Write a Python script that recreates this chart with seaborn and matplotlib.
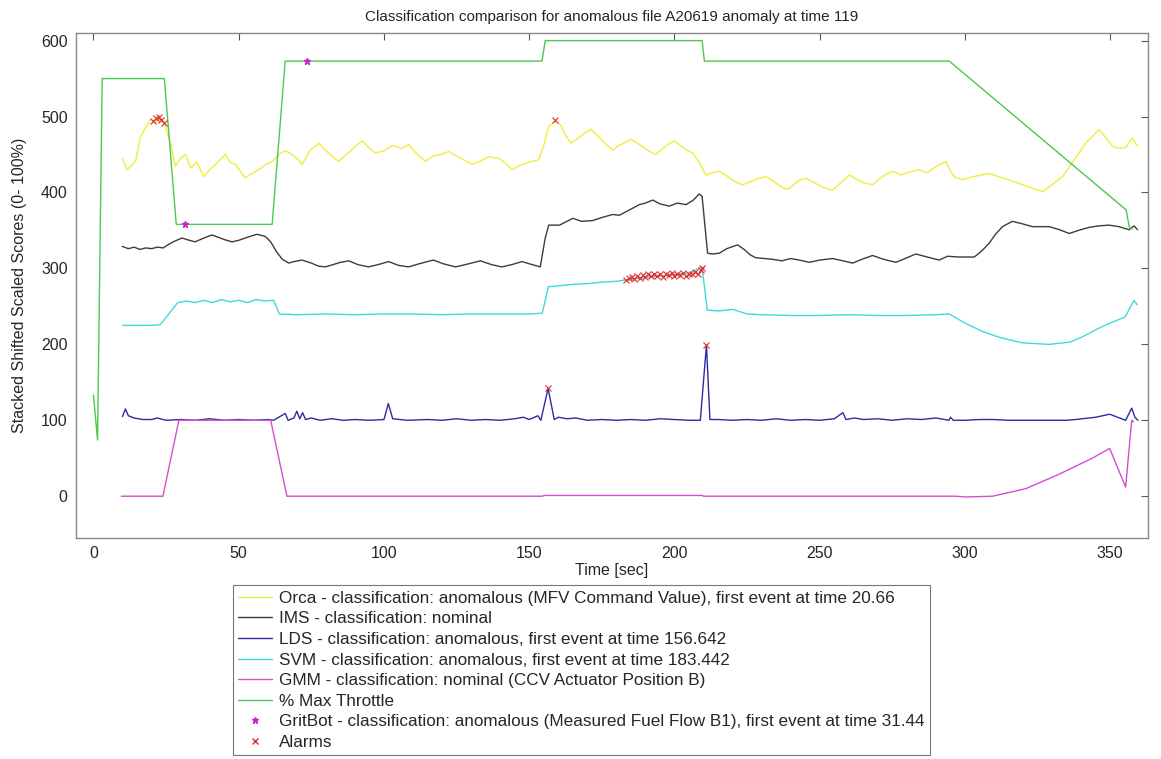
import numpy as np
import pandas as pd
import matplotlib
matplotlib.use("Agg")
import matplotlib.pyplot as plt
import seaborn as sns
from matplotlib.lines import Line2D

# ---------------------------
# data (time [sec], stacked score)
# ---------------------------
orca = [(9.9, 445), (11.6, 430), (12.7, 434), (14.5, 441), (16.2, 474), (17.9, 485), (19.6, 496),
        (21.5, 492), (23, 498), (24.2, 494), (26.5, 465), (28.2, 434), (30, 445), (31.7, 450),
        (33.4, 432), (35.5, 440), (38, 421), (40, 430), (42, 437), (44, 445), (45.4, 450),
        (47, 440), (48.9, 437), (50.5, 428), (52.3, 419), (54.5, 425), (56.9, 430), (59, 436),
        (61.5, 441), (63.8, 450), (66, 455), (68.4, 450), (70, 445), (71.8, 437), (74.5, 455),
        (77.5, 465), (80, 455), (82, 448), (84.4, 441), (87, 450), (90, 460), (92.5, 468),
        (95, 458), (97, 452), (100, 455), (103, 462), (106, 458), (108.5, 463), (111, 452),
        (114.2, 441), (117, 448), (119.5, 450), (122.3, 454), (125, 448), (128, 442), (130.3, 437),
        (133, 441), (136, 447), (139.5, 445), (142, 438), (144.1, 430), (147, 436), (150, 440),
        (153.2, 443), (155, 462), (156.7, 487), (159, 494), (161, 488), (162.5, 475), (164.4, 465),
        (167, 472), (169, 478), (171.2, 483), (173.5, 475), (176, 465), (178.7, 456), (181, 462),
        (183, 466), (185, 470), (188, 463), (191, 455), (193.6, 450), (196, 458), (198, 464),
        (199.9, 468), (202, 462), (204, 456), (206.2, 452), (208.5, 440), (210.8, 423), (213, 426),
        (215.4, 428), (218, 422), (220.5, 415), (223.4, 410), (226, 414), (228.5, 418), (231.5, 421),
        (234, 415), (236.5, 408), (238.9, 404), (241, 410), (243, 416), (245.2, 419), (248, 413),
        (251, 407), (254.4, 403), (257, 412), (260.2, 423), (262.5, 418), (265, 413), (268.2, 410),
        (270.5, 418), (273, 424), (275.1, 428), (278, 423), (281, 427), (284.2, 430), (287, 426),
        (290, 434), (293.4, 441), (295, 428), (296.5, 420), (299.2, 417), (303, 421), (308.3, 425),
        (314, 418), (320, 410), (326.7, 401), (333.6, 421), (341.6, 465), (346.2, 483), (350.8, 461),
        (353, 458), (355.3, 459), (357.6, 472), (359.4, 461)]

ims = [(9.9, 329), (12, 326), (14, 328), (16, 325), (18, 327), (20, 326), (22, 328), (24, 327),
       (26, 332), (28, 336), (30.5, 340), (33, 337), (35, 335), (38, 340), (40.8, 344), (43, 341),
       (45, 338), (47.7, 335), (50, 337), (53, 341), (56.3, 345), (59.2, 342), (61, 335), (63, 322),
       (65, 312), (67.2, 307), (69, 309), (71.8, 311), (75, 307), (77.5, 303), (79.8, 302),
       (82.5, 305), (85, 308), (87.9, 310), (91, 305), (94.7, 302), (98, 305), (101.6, 309),
       (105, 304), (108.5, 302), (112, 306), (117, 311), (120.5, 306), (124.6, 302), (128, 305),
       (133.2, 310), (137, 305), (140.6, 302), (144, 305), (147.5, 309), (151, 305), (153.8, 302),
       (155.5, 340), (156.7, 357), (160.4, 357), (163, 362), (165, 366), (168, 362), (171.8, 363),
       (175, 367), (178.7, 371), (181, 370), (184, 376), (187.9, 384), (190, 386), (192.5, 390),
       (195, 385), (198.2, 382), (201, 386), (204, 384), (206.5, 390), (208.5, 398), (209.5, 395),
       (211.4, 320), (213, 319), (215.4, 320), (218, 326), (221.7, 331), (224, 325), (226, 318),
       (228, 314), (231, 313), (233.7, 312), (237, 310), (240, 313), (243, 311), (246.4, 308),
       (250, 311), (254.4, 313), (258, 310), (261.3, 307), (264.5, 312), (268.2, 317), (272, 312),
       (276.2, 308), (280, 314), (283.1, 319), (287, 315), (291.1, 311), (294, 316), (298, 315),
       (303.2, 315), (305.5, 322), (308.3, 333), (310.5, 345), (312.9, 355), (316.3, 362),
       (319.5, 359), (323.2, 355), (329, 355), (332.5, 351), (335.9, 346), (339, 350), (342.7, 354),
       (346, 356), (349.6, 357), (353, 355), (356.5, 351), (358.2, 356), (359.4, 351)]

lds = [(10, 105), (11, 115), (12, 106), (14, 103), (17, 101), (20, 101), (22, 103), (25, 100),
       (30, 101), (35, 100), (40, 102), (45, 100), (50, 101), (55, 100), (60, 101), (62, 100),
       (66, 109), (67, 100), (69, 103), (70, 112), (71, 102), (72, 110), (73, 101), (75, 103),
       (78, 100), (82, 102), (86, 100), (90, 101), (95, 100), (100, 101), (101.5, 122), (103, 102),
       (108, 100), (115, 101), (120, 100), (125, 102), (130, 100), (135, 101), (140, 100),
       (145, 102), (148, 104), (150, 101), (153, 106), (154, 100), (156.5, 142), (158.6, 101),
       (160, 104), (163, 102), (166, 103), (170, 100), (175, 101), (180, 100), (185, 101),
       (190, 100), (195, 102), (200, 101), (205, 100), (208.9, 100), (211, 199), (212.2, 101),
       (215, 101), (220, 100), (225, 101), (230, 100), (235, 102), (240, 100), (245, 101),
       (250, 100), (255, 102), (258, 110), (259, 101), (262, 103), (265, 101), (270, 102),
       (275, 100), (280, 102), (285, 101), (290, 103), (294.5, 100), (295, 104), (296, 100),
       (300, 100), (305, 101), (310, 101), (315, 100), (320, 100), (325, 100), (330, 100),
       (335, 100), (338, 101), (345, 104), (349.8, 108), (355.3, 100), (357.4, 116), (358.5, 104),
       (359.5, 100)]

svm = [(10, 225), (15, 225), (20, 225), (23, 226), (29, 255), (32, 257), (35, 255), (38, 258),
       (41, 255), (44, 259), (47, 256), (50, 258), (53, 255), (56, 259), (59, 257), (62, 258),
       (64, 240), (70, 239), (80, 240), (90, 239), (100, 240), (110, 240), (120, 239), (130, 240),
       (140, 240), (150, 240), (154.5, 241), (156.6, 276), (160, 277), (165, 279), (170, 280),
       (175, 282), (180, 283), (183.4, 285), (190, 288), (195, 290), (200, 292), (205, 294),
       (209.5, 302), (211.3, 245), (215, 244), (220, 246), (225, 240), (230, 239), (240, 238),
       (250, 238), (260, 239), (270, 238), (280, 238), (290, 239), (294.6, 240), (300, 228),
       (306, 217), (312, 209), (319.7, 202), (329, 200), (336.2, 203), (341, 211), (345.9, 221),
       (350, 228), (355.1, 236), (358.2, 258), (359.3, 252)]

gmm = [(9.6, 0), (23.9, 0), (29.4, 100), (61, 100), (66.6, 0), (154.6, 0), (155, 1), (209.6, 1),
       (210, 0), (297, 0), (300, -1), (309.5, 0), (321, 10), (332.4, 29), (343.8, 50), (349.8, 63),
       (355.3, 12), (357.4, 100), (358, 98)]

throttle = [(0, 133), (1.4, 74), (3, 550), (24.4, 550), (28.5, 358), (61.5, 358), (66, 573),
            (154.4, 573), (155.5, 600), (209.5, 600), (210.3, 573), (294.6, 573), (355.5, 377),
            (356.5, 355), (357.5, 352)]

gritbot = [(31.44, 358), (73.4, 573)]

alarms = [(20.66, 494), (21.6, 498), (22.4, 500), (23.2, 495), (24.3, 492), (159, 495),
          (156.6, 142), (211, 199),
          (183.4, 285), (184.5, 287), (185.3, 289), (186, 286), (187, 290), (188, 288), (189, 291),
          (190, 289), (191, 292), (192, 290), (193, 293), (194, 290), (195, 292), (196, 289),
          (197, 293), (198, 291), (199, 294), (200, 290), (201, 293), (202, 291), (203, 294),
          (204, 290), (205, 293), (206, 292), (207, 295), (208, 293), (209, 298), (209.5, 301)]

labels = ["Orca - classification: anomalous (MFV Command Value), first event at time 20.66",
          "IMS - classification: nominal",
          "LDS - classification: anomalous, first event at time 156.642",
          "SVM - classification: anomalous, first event at time 183.442",
          "GMM - classification: nominal (CCV Actuator Position B)",
          "% Max Throttle",
          "GritBot - classification: anomalous (Measured Fuel Flow B1), first event at time 31.44",
          "Alarms"]

colors = ["#eeee3c", "#3c3c3c", "#2c2ca0", "#40dada", "#d050d0", "#4cc84c"]

# ---------------------------
# plot
# ---------------------------
sns.set_style("white")
plt.rcParams["font.family"] = ["Liberation Sans", "DejaVu Sans"]

fig = plt.figure(figsize=(11.61, 7.59), dpi=100)
ax = fig.add_axes([0.0655, 0.2912, 0.9233, 0.6653])

series = [orca, ims, lds, svm, gmm, throttle]
for pts, col in zip(series, colors):
    df = pd.DataFrame(pts, columns=["time", "score"])
    sns.lineplot(data=df, x="time", y="score", ax=ax, color=col, lw=1.0,
                 sort=False, estimator=None)

gb = pd.DataFrame(gritbot, columns=["time", "score"])
ax.plot(gb["time"], gb["score"], ls="none", marker="*", ms=5, color="#cc22cc")
al = pd.DataFrame(alarms, columns=["time", "score"])
ax.plot(al["time"], al["score"], ls="none", marker="x", ms=4, mew=0.8, color="#e03030")

ax.set_xlim(-6, 363)
ax.set_ylim(-55, 610)
ax.set_xticks(np.arange(0, 351, 50))
ax.set_yticks(np.arange(0, 601, 100))
ax.tick_params(direction="in", length=5, width=0.8, top=True, right=True,
               labelsize=11.5, color="#555555", pad=6)
for s in ax.spines.values():
    s.set_color("#888888")
    s.set_linewidth(1.0)

ax.set_title("Classification comparison for anomalous file A20619 anomaly at time 119",
             fontsize=11, pad=9)
ax.set_xlabel("Time [sec]", fontsize=11.5, labelpad=1)
ax.set_ylabel("Stacked Shifted Scaled Scores (0- 100%)", fontsize=11.5, labelpad=10)

handles = [Line2D([], [], color=c, lw=1.0) for c in colors]
handles.append(Line2D([], [], ls="none", marker="*", ms=5, color="#cc22cc"))
handles.append(Line2D([], [], ls="none", marker="x", ms=4, color="#e03030"))
leg = fig.legend(handles, labels, loc="lower left", bbox_to_anchor=(0.2007, 0.005),
                 fontsize=12.3, frameon=True, fancybox=False, edgecolor="#555555",
                 handlelength=2.0, handletextpad=0.4, labelspacing=0.33, borderpad=0.3,
                 borderaxespad=0)
leg.get_frame().set_linewidth(0.8)

fig.savefig("out.png", dpi=100)
